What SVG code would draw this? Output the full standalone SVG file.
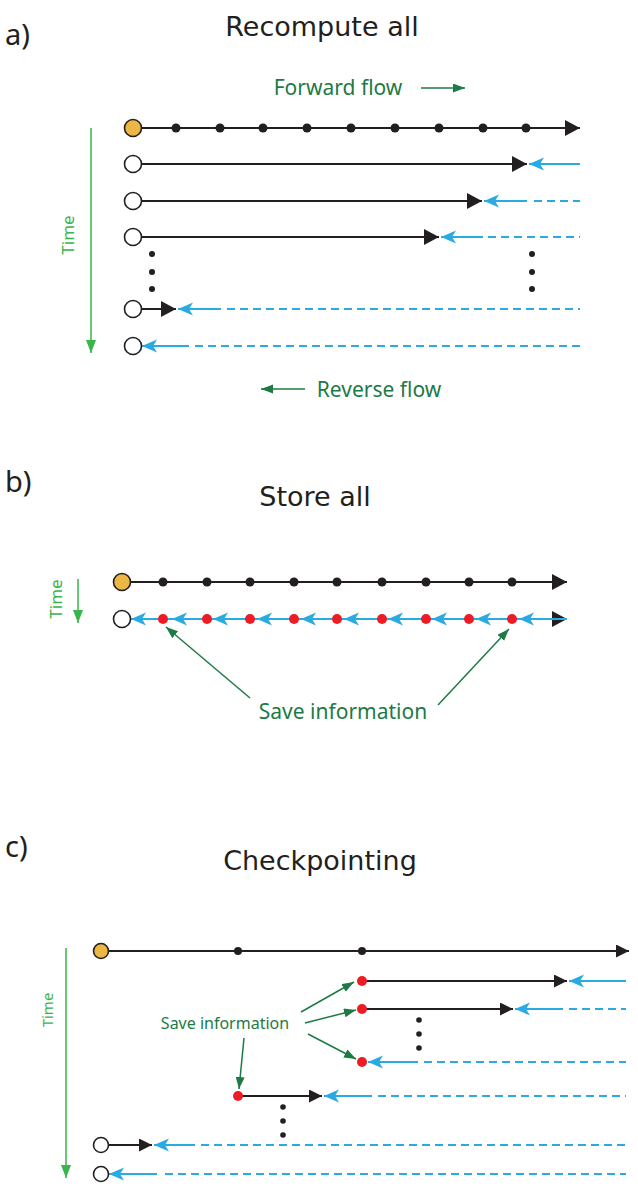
<svg xmlns="http://www.w3.org/2000/svg" width="638" height="1188" viewBox="0 0 638 1188">
<style>
.lbl{font-family:"Noto Sans","Open Sans",sans-serif;fill:#231f20}
.ttl{font-family:"Comic Sans MS","DejaVu Sans",sans-serif;fill:#231f20}
.gtxt{font-family:"Noto Sans","Open Sans",sans-serif;fill:#1d7a45}
.ttxt{font-family:"Noto Sans","Open Sans",sans-serif;fill:#39b54a}
.blk{stroke:#231f20;stroke-width:1.8;fill:none}
.blu{stroke:#29abe2;stroke-width:1.8;fill:none}
.dsh{stroke:#29abe2;stroke-width:1.8;fill:none;stroke-dasharray:8 5}
.grn{stroke:#1d7a45;stroke-width:1.5;fill:none}
.tax{stroke:#39b54a;stroke-width:1.5;fill:none}
.orange{fill:#ecb744;stroke:#231f20;stroke-width:1.6}
.white{fill:#fff;stroke:#231f20;stroke-width:1.6}
.dot{fill:#231f20}
.red{fill:#ed1c24}
</style>
<defs>
<marker id="ab" markerUnits="userSpaceOnUse" markerWidth="16" markerHeight="18" refX="15" refY="8" orient="auto"><path d="M0,0 L15,8 L0,16 Z" fill="#231f20"/></marker>
<marker id="abs" markerUnits="userSpaceOnUse" markerWidth="14" markerHeight="14" refX="13" refY="6.5" orient="auto"><path d="M0,0 L13,6.5 L0,13 Z" fill="#231f20"/></marker>
<marker id="au" markerUnits="userSpaceOnUse" markerWidth="16" markerHeight="15" refX="15" refY="6.5" orient="auto"><path d="M0,0 L15,6.5 L0,13 L4,6.5 Z" fill="#29abe2"/></marker>
<marker id="ag" markerUnits="userSpaceOnUse" markerWidth="13" markerHeight="10" refX="12" refY="4.5" orient="auto"><path d="M0,0 L12,4.5 L0,9 Z" fill="#1d7a45"/></marker>
<marker id="at" markerUnits="userSpaceOnUse" markerWidth="13" markerHeight="14" refX="13" refY="5" orient="auto"><path d="M0,0 L13,5 L0,10 Z" fill="#39b54a"/></marker>
</defs>

<!-- Section a -->
<g id="panel-a-labels">
<text class="lbl" x="5" y="45" font-size="29">a)</text>
<text class="ttl" x="322" y="36" font-size="27" text-anchor="middle">Recompute all</text>
<text class="gtxt" x="338" y="95" font-size="21" text-anchor="middle">Forward flow</text>
<text class="gtxt" x="379" y="397" font-size="21" text-anchor="middle">Reverse flow</text>
<text class="ttxt" font-size="17" text-anchor="middle" transform="translate(74,235) rotate(-90)">Time</text>
</g>
<g id="connectors-a">
<line class="grn" x1="421" y1="88" x2="465" y2="88" marker-end="url(#ag)"/>
<line class="grn" x1="305" y1="389" x2="261" y2="389" marker-end="url(#ag)"/>
<line class="tax" x1="91" y1="128" x2="91" y2="353" marker-end="url(#at)"/>
<line class="blk" x1="141" y1="128" x2="580" y2="128" marker-end="url(#ab)"/>
<line class="blk" x1="141" y1="164" x2="527" y2="164" marker-end="url(#ab)"/>
<line class="blu" x1="580" y1="164" x2="529" y2="164" marker-end="url(#au)"/>
<line class="blk" x1="141" y1="201" x2="482" y2="201" marker-end="url(#ab)"/>
<line class="dsh" x1="534" y1="201" x2="580" y2="201"/>
<line class="blu" x1="527" y1="201" x2="484" y2="201" marker-end="url(#au)"/>
<line class="blk" x1="141" y1="237" x2="439" y2="237" marker-end="url(#ab)"/>
<line class="dsh" x1="488" y1="237" x2="580" y2="237"/>
<line class="blu" x1="483" y1="237" x2="441" y2="237" marker-end="url(#au)"/>
<line class="blk" x1="141" y1="309" x2="176" y2="309" marker-end="url(#ab)"/>
<line class="dsh" x1="227" y1="309" x2="580" y2="309"/>
<line class="blu" x1="221" y1="309" x2="178" y2="309" marker-end="url(#au)"/>
<line class="dsh" x1="195" y1="346" x2="580" y2="346"/>
<line class="blu" x1="189" y1="346" x2="142" y2="346" marker-end="url(#au)"/>
</g>
<g id="nodes-a">
<circle class="orange" cx="133" cy="128" r="8.5"/>
<circle class="dot" cx="176" cy="128" r="4.5"/><circle class="dot" cx="220" cy="128" r="4.5"/><circle class="dot" cx="263" cy="128" r="4.5"/><circle class="dot" cx="307" cy="128" r="4.5"/><circle class="dot" cx="351" cy="128" r="4.5"/><circle class="dot" cx="395" cy="128" r="4.5"/><circle class="dot" cx="439" cy="128" r="4.5"/><circle class="dot" cx="483" cy="128" r="4.5"/><circle class="dot" cx="526" cy="128" r="4.5"/>
<circle class="white" cx="133" cy="164" r="8.5"/>
<circle class="white" cx="133" cy="201" r="8.5"/>
<circle class="white" cx="133" cy="237" r="8.5"/>
<circle class="white" cx="133" cy="309" r="8.5"/>
<circle class="white" cx="133" cy="346" r="8.5"/>
<circle class="dot" cx="152" cy="254" r="3"/><circle class="dot" cx="152" cy="272" r="3"/><circle class="dot" cx="152" cy="289" r="3"/>
<circle class="dot" cx="532" cy="254" r="3"/><circle class="dot" cx="532" cy="272" r="3"/><circle class="dot" cx="532" cy="289" r="3"/>
</g>

<!-- Section b -->
<g id="panel-b-labels">
<text class="lbl" x="5" y="492" font-size="29">b)</text>
<text class="ttl" x="315" y="506" font-size="27" text-anchor="middle">Store all</text>
<text class="ttxt" font-size="17" text-anchor="middle" transform="translate(62,599) rotate(-90)">Time</text>
<text class="gtxt" x="343" y="719" font-size="21" text-anchor="middle">Save information</text>
</g>
<g id="connectors-b">
<line class="tax" x1="78" y1="579" x2="78" y2="623" marker-end="url(#at)"/>
<line class="blk" x1="130" y1="582" x2="567" y2="582" marker-end="url(#ab)"/>
<line class="blk" x1="130" y1="619" x2="567" y2="619" marker-end="url(#ab)"/>
<path class="blu" d="M567,619 L519,619 L476,619 L432,619 L388,619 L344,619 L301,619 L257,619 L213,619 L172,619 L131,619" marker-mid="url(#au)" marker-end="url(#au)"/>
<line class="grn" x1="250" y1="698" x2="166" y2="627" marker-end="url(#ag)"/>
<line class="grn" x1="438" y1="705" x2="509" y2="629" marker-end="url(#ag)"/>
</g>
<g id="nodes-b">
<circle class="orange" cx="122" cy="582" r="8.5"/>
<circle class="dot" cx="163" cy="582" r="4.5"/><circle class="dot" cx="207" cy="582" r="4.5"/><circle class="dot" cx="250" cy="582" r="4.5"/><circle class="dot" cx="294" cy="582" r="4.5"/><circle class="dot" cx="337" cy="582" r="4.5"/><circle class="dot" cx="382" cy="582" r="4.5"/><circle class="dot" cx="426" cy="582" r="4.5"/><circle class="dot" cx="469" cy="582" r="4.5"/><circle class="dot" cx="512" cy="582" r="4.5"/>
<circle class="white" cx="122" cy="619" r="8.5"/>
<circle class="red" cx="163" cy="619" r="5"/><circle class="red" cx="207" cy="619" r="5"/><circle class="red" cx="250" cy="619" r="5"/><circle class="red" cx="294" cy="619" r="5"/><circle class="red" cx="337" cy="619" r="5"/><circle class="red" cx="382" cy="619" r="5"/><circle class="red" cx="426" cy="619" r="5"/><circle class="red" cx="469" cy="619" r="5"/><circle class="red" cx="512" cy="619" r="5"/>
</g>

<!-- Section c -->
<g id="panel-c-labels">
<text class="lbl" x="5" y="857" font-size="29">c)</text>
<text class="ttl" x="320" y="870" font-size="27" text-anchor="middle">Checkpointing</text>
<text class="ttxt" font-size="15" text-anchor="middle" transform="translate(53,1010) rotate(-90)">Time</text>
<text class="gtxt" x="225" y="1029" font-size="16" text-anchor="middle">Save information</text>
</g>
<g id="connectors-c">
<line class="tax" x1="66" y1="948" x2="66" y2="1178" marker-end="url(#at)"/>
<line class="blk" x1="108" y1="951" x2="629" y2="951" marker-end="url(#abs)"/>
<line class="blk" x1="362" y1="981" x2="567" y2="981" marker-end="url(#abs)"/>
<line class="blu" x1="626" y1="981" x2="569" y2="981" marker-end="url(#au)"/>
<line class="blk" x1="362" y1="1009" x2="513" y2="1009" marker-end="url(#abs)"/>
<line class="dsh" x1="569" y1="1009" x2="626" y2="1009"/>
<line class="blu" x1="563" y1="1009" x2="515" y2="1009" marker-end="url(#au)"/>
<line class="dsh" x1="424" y1="1062" x2="626" y2="1062"/>
<line class="blu" x1="418" y1="1062" x2="368" y2="1062" marker-end="url(#au)"/>
<line class="blk" x1="238" y1="1096" x2="322" y2="1096" marker-end="url(#abs)"/>
<line class="dsh" x1="378" y1="1096" x2="626" y2="1096"/>
<line class="blu" x1="372" y1="1096" x2="324" y2="1096" marker-end="url(#au)"/>
<line class="blk" x1="108" y1="1145" x2="152" y2="1145" marker-end="url(#abs)"/>
<line class="dsh" x1="201" y1="1145" x2="626" y2="1145"/>
<line class="blu" x1="195" y1="1145" x2="154" y2="1145" marker-end="url(#au)"/>
<line class="dsh" x1="165" y1="1174" x2="626" y2="1174"/>
<line class="blu" x1="157" y1="1174" x2="109" y2="1174" marker-end="url(#au)"/>
<line class="grn" x1="301" y1="1012" x2="354" y2="982" marker-end="url(#ag)"/>
<line class="grn" x1="305" y1="1023" x2="356" y2="1010" marker-end="url(#ag)"/>
<line class="grn" x1="308" y1="1034" x2="356" y2="1059" marker-end="url(#ag)"/>
<line class="grn" x1="244" y1="1038" x2="239" y2="1089" marker-end="url(#ag)"/>
</g>
<g id="nodes-c">
<circle class="orange" cx="101" cy="951" r="7.5"/>
<circle class="dot" cx="238" cy="951" r="4"/><circle class="dot" cx="362" cy="951" r="4"/>
<circle class="red" cx="362" cy="981" r="5"/>
<circle class="red" cx="362" cy="1009" r="5"/>
<circle class="red" cx="362" cy="1062" r="5"/>
<circle class="red" cx="238" cy="1096" r="5"/>
<circle class="white" cx="101" cy="1145" r="7.5"/>
<circle class="white" cx="101" cy="1174" r="7.5"/>
<circle class="dot" cx="419" cy="1020" r="2.8"/><circle class="dot" cx="419" cy="1034" r="2.8"/><circle class="dot" cx="419" cy="1048" r="2.8"/>
<circle class="dot" cx="283" cy="1107" r="2.8"/><circle class="dot" cx="283" cy="1121" r="2.8"/><circle class="dot" cx="283" cy="1135" r="2.8"/>
</g>
</svg>
